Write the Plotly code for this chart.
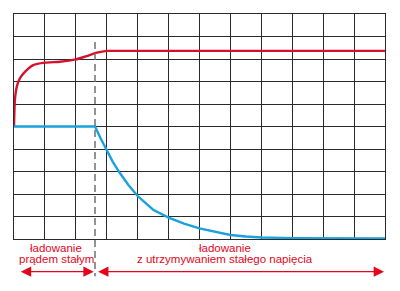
import plotly.graph_objects as go

# Data
voltage_x = [0, 0.03, 0.09, 0.19, 0.36, 0.62, 1.0, 1.49, 2.0, 2.35, 2.68, 3.0, 3.3, 4.0, 6.0, 9.0, 12]
voltage_y = [5.0, 6.2, 6.77, 7.14, 7.44, 7.73, 7.84, 7.88, 7.98, 8.13, 8.28, 8.36, 8.36, 8.36, 8.36, 8.36, 8.36]

current_x = [0, 2.62, 2.8, 2.98, 3.2, 3.43, 3.7, 4.0, 4.5, 5.0, 5.5, 6.0, 6.67, 7.0, 7.5, 8.0, 9.0, 10.0, 12.0]
current_y = [5.0, 5.0, 4.48, 3.99, 3.42, 2.92, 2.4, 1.91, 1.3, 0.95, 0.68, 0.47, 0.28, 0.18, 0.11, 0.07, 0.04, 0.03, 0.03]

phase_end = 2.62          # boundary between the two charging phases
x_max, y_max = 12, 10
phase1_label = ["ładowanie", "prądem stałym"]
phase2_label = ["ładowanie", "z utrzymywaniem stałego napięcia"]
phase1_span = [0.17, 2.58]
phase2_span = [2.67, 11.97]
phase1_label_x = 1.36
phase2_label_x = 6.83

RED = "#d5122b"
TXT = "#e3061b"
BLUE = "#1ba1db"
GRID = "#2a2a2a"
FONT = "Liberation Sans, Arial, sans-serif"

fig = go.Figure()
fig.add_trace(go.Scatter(x=voltage_x, y=voltage_y, mode="lines",
                         line=dict(color=RED, width=2.4, shape="spline", smoothing=0.6),
                         hoverinfo="skip"))
fig.add_trace(go.Scatter(x=current_x, y=current_y, mode="lines",
                         line=dict(color=BLUE, width=2.4),
                         hoverinfo="skip"))

# dashed phase boundary
fig.add_shape(type="line", xref="x", yref="paper", x0=phase_end, x1=phase_end,
              y0=0.876, y1=-0.165, line=dict(color="#707070", width=1.5, dash="7px,4px"),
              layer="above")

# labels
for lbl, xc in ((phase1_label, phase1_label_x), (phase2_label, phase2_label_x)):
    for i, t in enumerate(lbl):
        fig.add_annotation(x=xc, y=-0.042 - 0.049 * i, xref="x", yref="paper",
                           text=t, showarrow=False, xanchor="center", yanchor="middle",
                           font=dict(family=FONT, size=11.5, color=TXT))

# double arrows
for a, b in (phase1_span, phase2_span):
    fig.add_annotation(x=b, y=-0.145, xref="x", yref="paper",
                       ax=a, ay=0, axref="x", ayref="pixel",
                       text="", showarrow=True, arrowside="end+start",
                       arrowhead=2, startarrowhead=2, arrowsize=1.6, startarrowsize=1.6,
                       arrowwidth=1.3, arrowcolor=TXT, standoff=0, startstandoff=0)

axis_common = dict(showgrid=True, gridcolor=GRID, gridwidth=1.2, dtick=1,
                   showticklabels=False, ticks="", zeroline=False,
                   showline=True, linecolor=GRID, linewidth=1.4, mirror=True,
                   fixedrange=True)
fig.update_xaxes(range=[0, x_max], **axis_common)
fig.update_yaxes(range=[0, y_max], **axis_common)

fig.update_layout(width=400, height=291, margin=dict(l=14, r=15, t=14, b=52),
                  showlegend=False, plot_bgcolor="white", paper_bgcolor="white")

fig.write_html("out.html", config={"displayModeBar": False})
